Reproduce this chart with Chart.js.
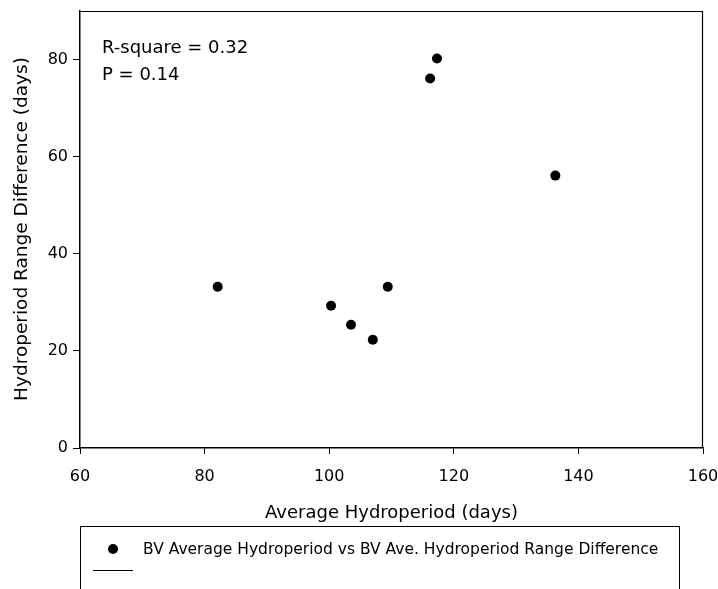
<!DOCTYPE html>
<html><head><meta charset="utf-8">
<style>html,body{margin:0;padding:0;background:#fff;}#wrap{width:718px;height:589px;position:relative;}</style>
<script src="https://cdn.jsdelivr.net/npm/chart.js@4/dist/chart.umd.min.js"></script>
</head><body><div id="wrap"><canvas id="c" width="718" height="589"></canvas></div>
<script>
const xValues = [82.1, 100.3, 103.5, 107.0, 109.4, 116.2, 117.3, 136.3];
const yValues = [33.2, 29.3, 25.4, 22.3, 33.2, 76.1, 80.2, 56.1];
const xTicks = [60, 80, 100, 120, 140, 160];
const yTicks = [0, 20, 40, 60, 80];
const seriesLabel = 'BV Average Hydroperiod vs BV Ave. Hydroperiod Range Difference';
const xTitle = 'Average Hydroperiod (days)';
const yTitle = 'Hydroperiod Range Difference (days)';
const annotations = ['R-square = 0.32', 'P = 0.14'];

const FONT = "'DejaVu Sans', 'Liberation Sans', Arial, sans-serif";

const points = xValues.map((x, i) => ({x: x, y: yValues[i]}));

const decor = {
  id: 'decor',
  afterDraw(chart) {
    const ctx = chart.ctx;
    const a = chart.chartArea;
    ctx.save();
    ctx.strokeStyle = '#000';
    ctx.lineWidth = 1.2;
    ctx.beginPath();
    ctx.moveTo(a.left, a.top + 0.5);
    ctx.lineTo(a.right - 0.5, a.top + 0.5);
    ctx.lineTo(a.right - 0.5, a.bottom);
    ctx.stroke();

    ctx.fillStyle = '#000';
    ctx.textBaseline = 'alphabetic';
    ctx.textAlign = 'left';
    ctx.font = '18px ' + FONT;
    ctx.fillText(annotations[0], 102, 53);
    ctx.fillText(annotations[1], 102, 80);

    ctx.textAlign = 'center';
    ctx.font = '18px ' + FONT;
    ctx.fillText(xTitle, (a.left + a.right) / 2, 518);

    ctx.save();
    ctx.translate(27, 229);
    ctx.rotate(-Math.PI / 2);
    ctx.font = '18.5px ' + FONT;
    ctx.fillText(yTitle, 0, 0);
    ctx.restore();

    // legend box
    ctx.lineWidth = 1;
    ctx.beginPath();
    ctx.moveTo(80.5, 600);
    ctx.lineTo(80.5, 526.5);
    ctx.lineTo(679.5, 526.5);
    ctx.lineTo(679.5, 600);
    ctx.stroke();
    ctx.beginPath();
    ctx.arc(113, 549, 5, 0, Math.PI * 2);
    ctx.fill();
    ctx.textAlign = 'left';
    ctx.textBaseline = 'middle';
    ctx.font = '15.5px ' + FONT;
    ctx.fillText(seriesLabel, 143, 550);
    ctx.beginPath();
    ctx.moveTo(93, 570.5);
    ctx.lineTo(133, 570.5);
    ctx.stroke();
    ctx.restore();
  }
};

function noPad(s) { s.paddingLeft = 0; s.paddingRight = 0; s.paddingTop = 0; s.paddingBottom = 0; }

new Chart(document.getElementById('c'), {
  type: 'scatter',
  data: {
    datasets: [{
      label: seriesLabel,
      data: points,
      pointRadius: 5,
      pointHoverRadius: 5,
      backgroundColor: '#000',
      borderColor: '#000',
      borderWidth: 0
    }]
  },
  options: {
    responsive: false,
    animation: false,
    devicePixelRatio: 1,
    layout: {padding: {top: 11, right: 15, left: 0, bottom: 0}},
    plugins: {legend: {display: false}, tooltip: {enabled: false}},
    scales: {
      x: {
        type: 'linear',
        position: 'bottom',
        min: 60, max: 160,
        afterFit: s => { s.height = 141; noPad(s); },
        afterBuildTicks: s => { s.ticks = xTicks.map(v => ({value: v})); },
        ticks: {color: '#000', font: {family: FONT, size: 16}, padding: 13},
        grid: {drawOnChartArea: false, drawTicks: true, tickLength: 6, color: '#000', lineWidth: 1},
        border: {display: true, color: '#000', width: 1.5}
      },
      y: {
        min: 0, max: 90,
        afterFit: s => { s.width = 80; noPad(s); },
        afterBuildTicks: s => { s.ticks = yTicks.map(v => ({value: v})); },
        ticks: {color: '#000', font: {family: FONT, size: 16}, padding: 5},
        grid: {drawOnChartArea: false, drawTicks: true, tickLength: 7, color: '#000', lineWidth: 1},
        border: {display: true, color: '#000', width: 1.5}
      }
    }
  },
  plugins: [decor]
});
</script>
</body></html>
